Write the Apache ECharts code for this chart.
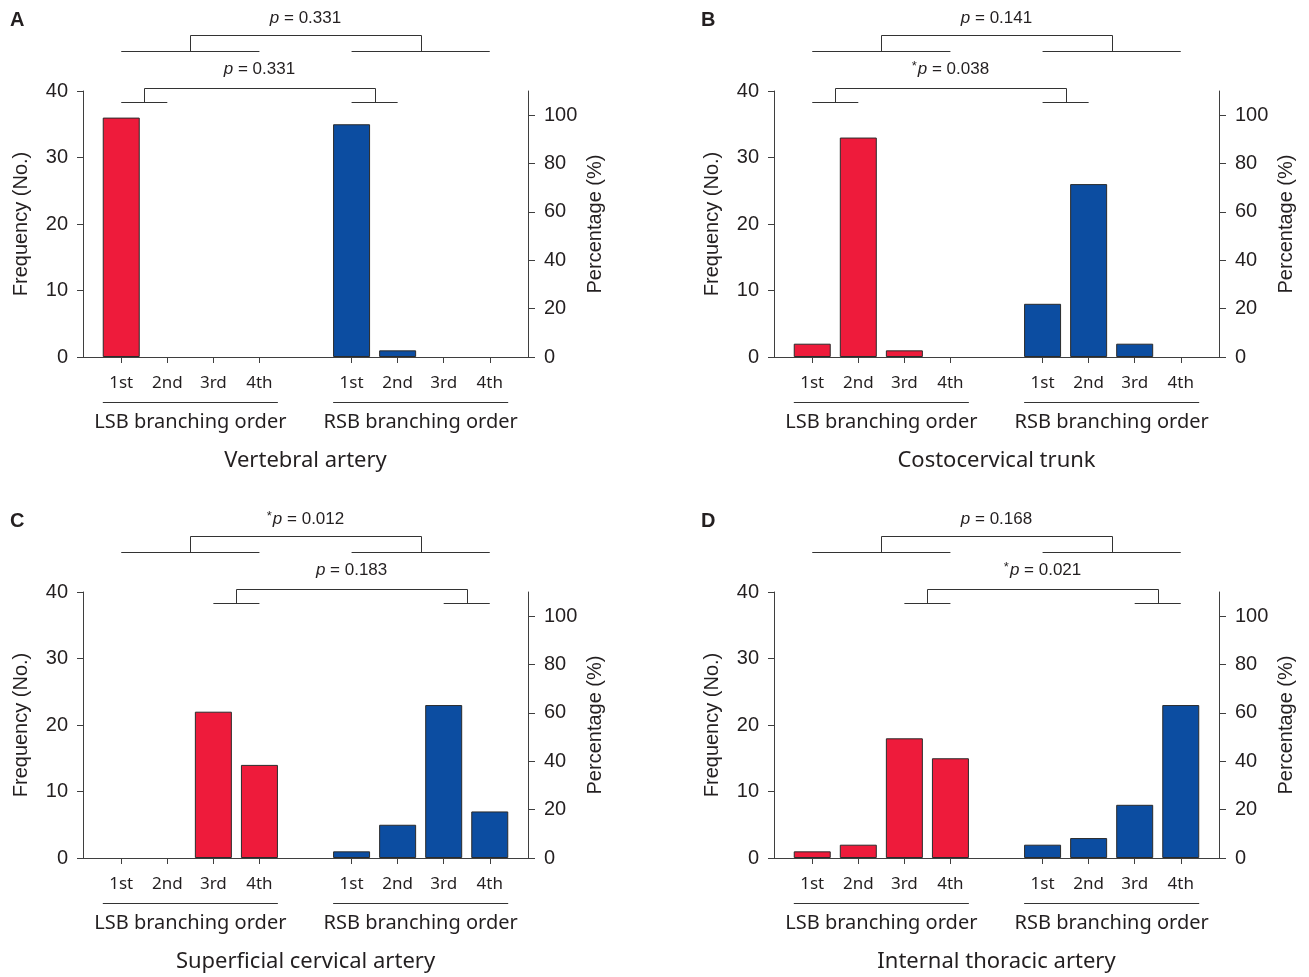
<!DOCTYPE html>
<html><head><meta charset="utf-8">
<script src="https://cdn.jsdelivr.net/npm/echarts@6/dist/echarts.min.js"></script>
<style>html,body{margin:0;padding:0;background:#fff}#c{width:1309px;height:977px}</style>
</head><body><div id="c"></div>
<script>
// ---------- data ----------
const categories = ['1st', '2nd', '3rd', '4th'];
const positionsLSB = [1, 2, 3, 4];
const positionsRSB = [6, 7, 8, 9];
const groupLabels = ['LSB branching order', 'RSB branching order'];
const panelLetters = ['A', 'B', 'C', 'D'];
const panelTitles = ['Vertebral artery', 'Costocervical trunk', 'Superficial cervical artery', 'Internal thoracic artery'];
const lsbA = [36, 0, 0, 0];
const rsbA = [35, 1, 0, 0];
const lsbB = [2, 33, 1, 0];
const rsbB = [8, 26, 2, 0];
const lsbC = [0, 0, 22, 14];
const rsbC = [1, 5, 23, 7];
const lsbD = [1, 2, 18, 15];
const rsbD = [2, 3, 8, 23];
const lsbValues = [lsbA, lsbB, lsbC, lsbD];
const rsbValues = [rsbA, rsbB, rsbC, rsbD];
const topPValues = ['0.331', '0.141', '0.012', '0.168'];
const topSig = [false, false, true, false];
const innerPValues = ['0.331', '0.038', '0.183', '0.021'];
const innerSig = [false, true, false, true];
const innerOrders = [[1, 2], [1, 2], [3, 4], [3, 4]];
const freqTicks = [0, 10, 20, 30, 40];
const pctTicks = [0, 20, 40, 60, 80, 100];
const freqName = 'Frequency (No.)';
const pctName = 'Percentage (%)';

// ---------- styles ----------
const RED = '#EE1B3B', BLUE = '#0C4DA1', EDGE = '#2b2b2b';
const AX = '#3f3f3f', TXT = '#231f20';
const NUMFONT = 'Liberation Sans, Arial, sans-serif';
const CATFONT = 'Noto Sans, Open Sans, sans-serif';
const gridPos = [
  {left: 83, top: 91}, {left: 774, top: 91},
  {left: 83, top: 592}, {left: 774, top: 592}
];
const GW = 445, GH = 266;
const tickPositions = positionsLSB.concat(positionsRSB);
function catLabel(v) {
  const k = tickPositions.indexOf(Math.round(v));
  return k < 0 ? '' : categories[k % 4];
}
function barItem(p, v, color) {
  return {value: [p, v], itemStyle: {color: color, borderColor: EDGE, borderWidth: v > 0 ? 1 : 0}};
}

const chart = echarts.init(document.getElementById('c'), null, {renderer: 'canvas'});
const grids = [], xAxes = [], yAxes = [], series = [];
for (let i = 0; i < 4; i++) {
  grids.push({left: gridPos[i].left, top: gridPos[i].top, width: GW, height: GH, containLabel: false});
  xAxes.push({
    type: 'value', gridIndex: i, min: 0.17, max: 9.83,
    axisLine: {show: true, onZero: false, lineStyle: {color: AX, width: 1}},
    axisTick: {show: true, customValues: tickPositions, length: 6, lineStyle: {color: AX}},
    axisLabel: {show: true, customValues: tickPositions, formatter: catLabel, fontSize: 17,
      fontFamily: CATFONT, color: TXT, margin: 18},
    splitLine: {show: false}
  });
  yAxes.push({
    type: 'value', gridIndex: i, position: 'left', min: 0, max: 40, interval: 10,
    axisLine: {show: true, lineStyle: {color: AX, width: 1}},
    axisTick: {show: true, length: 6, lineStyle: {color: AX}},
    axisLabel: {fontSize: 20, fontFamily: NUMFONT, color: TXT, margin: 15,
      customValues: freqTicks},
    splitLine: {show: false},
    name: freqName, nameLocation: 'middle', nameRotate: 90, nameGap: 52,
    nameTextStyle: {fontSize: 20, fontFamily: NUMFONT, color: TXT}
  });
  yAxes.push({
    type: 'value', gridIndex: i, position: 'right', min: 0, max: 110,
    axisLine: {show: true, lineStyle: {color: AX, width: 1}},
    axisTick: {show: true, length: 7, customValues: pctTicks, lineStyle: {color: AX}},
    axisLabel: {fontSize: 20, fontFamily: NUMFONT, color: TXT, margin: 16,
      customValues: pctTicks},
    splitLine: {show: false},
    name: pctName, nameLocation: 'middle', nameRotate: 90, nameGap: 57,
    nameTextStyle: {fontSize: 20, fontFamily: NUMFONT, color: TXT}
  });
  series.push({
    type: 'bar', xAxisIndex: i, yAxisIndex: 2 * i, barWidth: 37, silent: true,
    data: positionsLSB.map((p, k) => barItem(p, lsbValues[i][k], RED))
  });
  series.push({
    type: 'bar', xAxisIndex: i, yAxisIndex: 2 * i, barWidth: 37, silent: true, barGap: '-100%',
    data: positionsRSB.map((p, k) => barItem(p, rsbValues[i][k], BLUE))
  });
}
chart.setOption({animation: false, backgroundColor: '#fff', grid: grids, xAxis: xAxes, yAxis: yAxes, series: series});

// ---------- annotations placed through the axes ----------
function px(i, p, v) { return chart.convertToPixel({seriesIndex: 2 * i}, [p, v]); }
const r = v => Math.round(v) + 0.5;
const LINE = {stroke: '#333', lineWidth: 1, fill: null};
const graphics = [];
function hline(x1, x2, y) {
  graphics.push({type: 'line', shape: {x1: x1, y1: r(y), x2: x2, y2: r(y)}, style: LINE});
}
function connector(xa, xb, yBase, yTop) {
  graphics.push({type: 'polyline', shape: {points: [[r(xa), r(yBase)], [r(xa), r(yTop)], [r(xb), r(yTop)], [r(xb), r(yBase)]]}, style: LINE});
}
function ptext(x, y, sig, val) {
  graphics.push({type: 'text', style: {
    text: (sig ? '{s|*}' : '') + '{i|p} = ' + val, x: x, y: y, textAlign: 'center', textVerticalAlign: 'middle',
    fontSize: 17, fontFamily: NUMFONT, fill: TXT,
    rich: {i: {fontStyle: 'italic', fontSize: 17, fontFamily: NUMFONT, fill: TXT},
           s: {fontSize: 13, fontFamily: NUMFONT, fill: TXT, padding: [0, 1, 5, 0]}}
  }});
}
function text(x, y, str, size, family, weight, align) {
  graphics.push({type: 'text', style: {text: str, x: x, y: y, textAlign: align || 'center', textVerticalAlign: 'middle',
    fontSize: size, fontFamily: family, fontWeight: weight || 'normal', fill: TXT}});
}
for (let i = 0; i < 4; i++) {
  const top = px(i, 1, 40)[1], bottom = px(i, 1, 0)[1];
  const X = p => px(i, p, 0)[0];
  // panel letter
  text(gridPos[i].left - 73, top - 71, panelLetters[i], 20, NUMFONT, 'bold', 'left');
  // outer bracket
  const yo = top - 40, yot = top - 56;
  hline(X(1), X(4), yo); hline(X(6), X(9), yo);
  connector(X(2.5), X(7.5), yo, yot);
  ptext((X(2.5) + X(7.5)) / 2, top - 73, topSig[i], topPValues[i]);
  // inner bracket
  const [a, b] = innerOrders[i];
  const yi = top + 11, yit = top - 3;
  hline(X(a), X(b), yi); hline(X(a + 5), X(b + 5), yi);
  const ca = (X(a) + X(b)) / 2, cb = (X(a + 5) + X(b + 5)) / 2;
  connector(ca, cb, yi, yit);
  ptext((ca + cb) / 2, top - 22, innerSig[i], innerPValues[i]);
  // group lines and labels
  hline(X(0.6), X(4.4), bottom + 45);
  hline(X(5.6), X(9.4), bottom + 45);
  text(X(2.5), bottom + 65, groupLabels[0], 20, CATFONT);
  text(X(7.5), bottom + 65, groupLabels[1], 20, CATFONT);
  text(X(5), bottom + 104, panelTitles[i], 22, CATFONT);
}
chart.setOption({graphic: graphics});
</script></body></html>
